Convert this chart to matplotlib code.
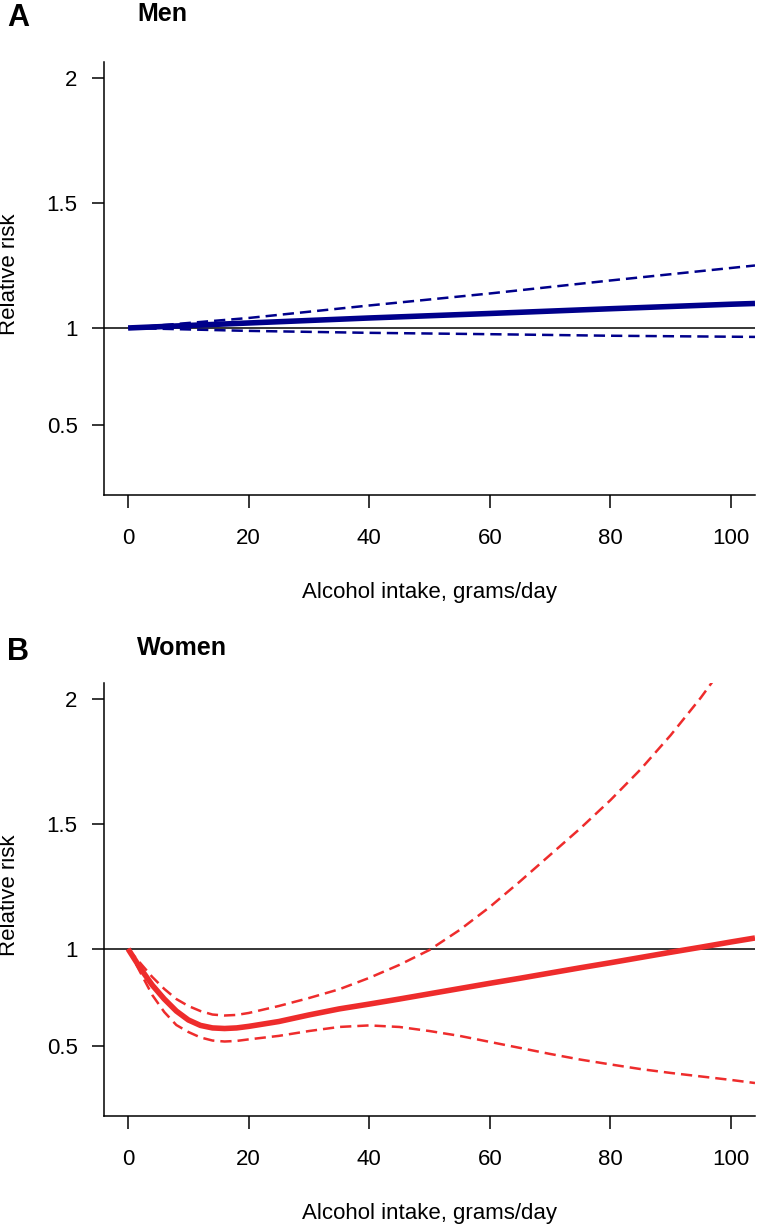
import numpy as np
import matplotlib
matplotlib.use("Agg")
import matplotlib.pyplot as plt

plt.rcParams['font.family'] = ['Liberation Sans', 'DejaVu Sans']

# Men (panel A)
men_x = [0, 20, 40, 60, 80, 100, 104]
men_rr = [1.0, 1.02, 1.04, 1.058, 1.077, 1.095, 1.098]
men_hi = [1.0, 1.04, 1.09, 1.138, 1.19, 1.24, 1.25]
men_lo = [1.0, 0.985, 0.975, 0.968, 0.96, 0.955, 0.954]

# Women (panel B)
women_x = [0, 2, 4, 6, 8, 10, 12, 14, 16, 18, 20, 25, 30, 35, 40, 45, 50,
           55, 60, 65, 70, 75, 80, 85, 90, 95, 100, 104]
women_rr = [1.0, 0.902, 0.814, 0.742, 0.680, 0.634, 0.606, 0.593, 0.590, 0.593,
            0.601, 0.626, 0.660, 0.691, 0.716, 0.742, 0.769, 0.796, 0.823,
            0.849, 0.876, 0.903, 0.929, 0.956, 0.983, 1.007, 1.028, 1.044]
women_hi = [1.0, 0.928, 0.856, 0.794, 0.742, 0.706, 0.680, 0.662, 0.657, 0.660,
            0.670, 0.706, 0.747, 0.792, 0.851, 0.918, 0.995, 1.076, 1.168,
            1.270, 1.376, 1.482, 1.595, 1.718, 1.855, 2.005, 2.17, 2.30]
women_lo = [1.0, 0.881, 0.763, 0.675, 0.608, 0.572, 0.544, 0.528, 0.523, 0.526,
            0.534, 0.552, 0.577, 0.598, 0.606, 0.598, 0.577, 0.552, 0.521,
            0.490, 0.459, 0.430, 0.405, 0.381, 0.361, 0.343, 0.325, 0.309]

x_ticks = [0, 20, 40, 60, 80, 100]
y_ticks = [0.5, 1, 1.5, 2]
y_ticklabels = ['0.5', '1', '1.5', '2']


# the axis below 1 is compressed compared with the part above 1
def fwd(v):
    v = np.asarray(v, dtype=float)
    return np.where(v >= 1, v - 1, 0.776 * (v - 1))


def inv(u):
    u = np.asarray(u, dtype=float)
    return np.where(u >= 0, u + 1, u / 0.776 + 1)


W, H = 757, 1227
fig = plt.figure(figsize=(W / 100, H / 100), dpi=100)


def make_panel(bottom_px, letter, title, xs, rr, hi, lo, color, letter_base, title_base):
    left, right = 104, 755
    ax = fig.add_axes([left / W, 1 - bottom_px / H, (right - left) / W, 433 / H])
    ax.set_yscale('function', functions=(fwd, inv))
    ax.axhline(1, color='black', lw=1.1, zorder=1)
    ax.plot(xs, rr, color=color, lw=4, solid_capstyle='butt', zorder=3)
    ax.plot(xs, hi, color=color, lw=1.8, dashes=(4.5, 2.4), zorder=2)
    ax.plot(xs, lo, color=color, lw=1.8, dashes=(4.5, 2.4), zorder=2)
    ax.set_xlim(-4, 104)
    ax.set_ylim(0.139, 2.064)
    ax.set_xticks(x_ticks)
    ax.set_xticklabels([str(t) for t in x_ticks])
    ax.set_yticks(y_ticks)
    ax.set_yticklabels(y_ticklabels)
    ax.minorticks_off()
    for s in ['top', 'right']:
        ax.spines[s].set_visible(False)
    for s in ['left', 'bottom']:
        ax.spines[s].set_linewidth(1.1)
    ax.tick_params(axis='both', direction='out', length=9, width=1.1,
                   labelsize=16, colors='black')
    ax.tick_params(axis='x', pad=15)
    ax.tick_params(axis='y', pad=10)
    ax.set_xlabel('Alcohol intake, grams/day', fontsize=16)
    ax.xaxis.set_label_coords(0.5, -0.2)
    # y label placed on the figure so it sits at the far left edge
    center_y = bottom_px - 433 / 2 - 4
    fig.text(10 / W, 1 - center_y / H, 'Relative risk', fontsize=16,
             rotation=90, ha='center', va='center')
    fig.text(7 / W, 1 - letter_base / H, letter, fontsize=22, fontweight='bold',
             va='baseline', ha='left')
    fig.text(137 / W, 1 - title_base / H, title, fontsize=18, fontweight='bold',
             va='baseline', ha='left')
    return ax


make_panel(495, 'A', 'Men', men_x, men_rr, men_hi, men_lo, '#00008b', 26, 21)
make_panel(1116, 'B', 'Women', women_x, women_rr, women_hi, women_lo, '#ee2c2c', 660, 655)

fig.savefig('out.png', dpi=100)
